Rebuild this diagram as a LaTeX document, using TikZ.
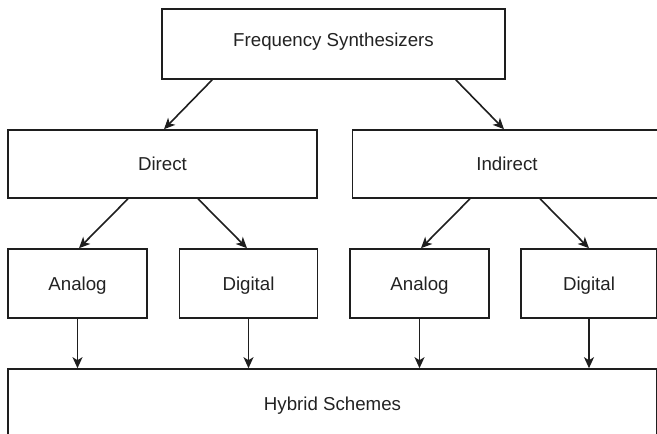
\documentclass[tikz,border=0pt]{standalone}
\usepackage{fontspec}
\setmainfont{Liberation Sans}
\usetikzlibrary{arrows.meta}
\definecolor{ink}{HTML}{1E1E1E}
\definecolor{txt}{HTML}{222222}
\tikzset{
  box/.style={draw=ink, line width=1.6pt, rectangle, inner sep=0pt,
    text=txt, font=\fontsize{18.7}{22}\selectfont,
    text height=13.4pt, text depth=0pt},
  arr/.style={draw=ink, line width=1.6pt,
    -{Stealth[length=11pt,width=10pt,inset=3pt]}}
}
\begin{document}
\begin{tikzpicture}[x=1pt,y=-1pt]
\useasboundingbox (0,0) rectangle (657,434);
\clip (0,0) rectangle (657,434);
\node[box, minimum width=343pt, minimum height=70pt, text depth=9.4pt] (top) at (333.5,44) {Frequency Synthesizers};
\node[box, minimum width=309pt, minimum height=68pt] (direct) at (162.5,164) {Direct};
\node[box, minimum width=309pt, minimum height=68pt] (indirect) at (507,164) {Indirect};
\node[box, minimum width=139pt, minimum height=69pt] (analogA) at (77.5,283.5) {Analog};
\node[box, minimum width=138pt, minimum height=69pt] (digitalA) at (248.5,283.5) {Digital};
\node[box, minimum width=139pt, minimum height=69pt] (analogB) at (419.5,283.5) {Analog};
\node[box, minimum width=136pt, minimum height=69pt] (digitalB) at (589,283.5) {Digital};
\node[box, minimum width=649pt, minimum height=69pt] (hybrid) at (332.5,403.5) {Hybrid Schemes};

\draw[arr] ([xshift=51pt]top.south west) -- ([xshift=1.5pt]direct.north);
\draw[arr] ([xshift=-50pt]top.south east) -- ([xshift=-3pt]indirect.north);
\draw[arr] ([xshift=-34.5pt]direct.south) -- ([xshift=1.5pt]analogA.north);
\draw[arr] ([xshift=35.5pt]direct.south) -- ([xshift=-1.5pt]digitalA.north);
\draw[arr] ([xshift=-37pt]indirect.south) -- ([xshift=1.5pt]analogB.north);
\draw[arr] ([xshift=33pt]indirect.south) -- (digitalB.north);
\foreach \n in {analogA,digitalA,analogB,digitalB}
  \draw[arr] (\n.south) -- (\n.south |- hybrid.north);
\end{tikzpicture}
\end{document}
